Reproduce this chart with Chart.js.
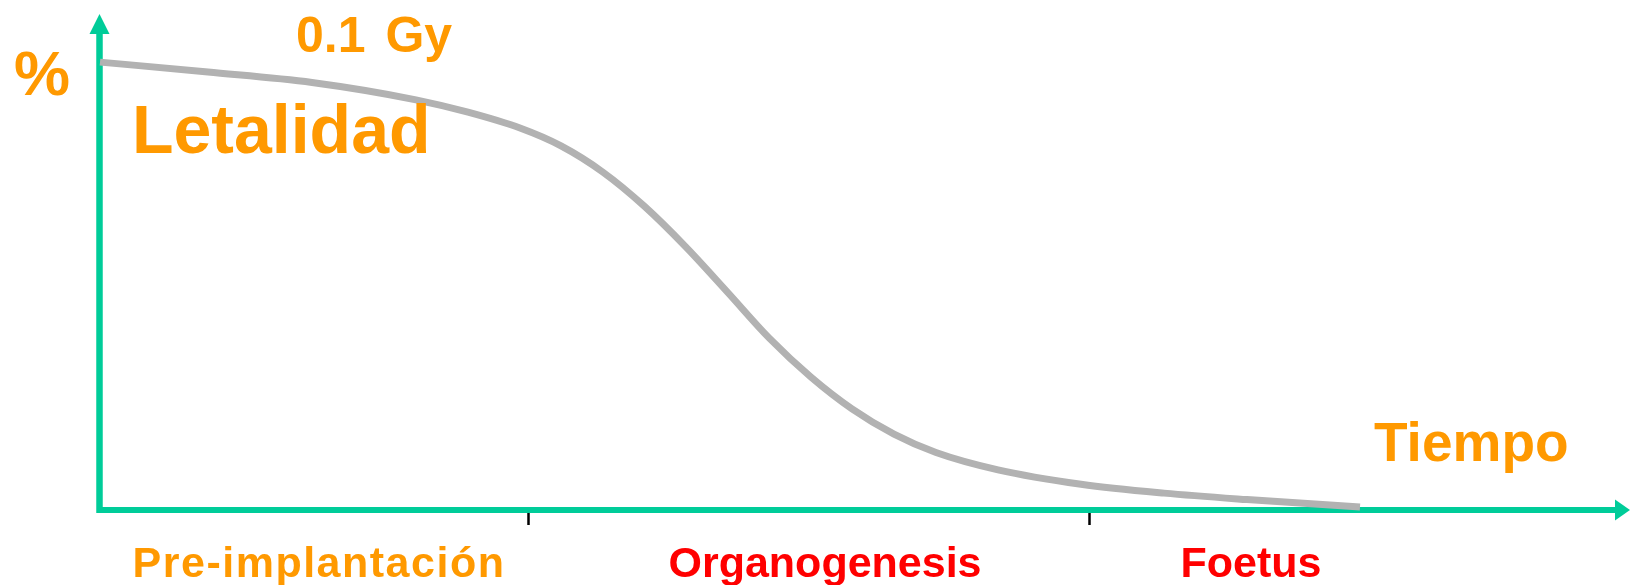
<!DOCTYPE html>
<html>
<head>
<meta charset="utf-8">
<script src="https://cdn.jsdelivr.net/npm/chart.js@4.4.1/dist/chart.umd.min.js"></script>
<style>
  html, body { margin: 0; padding: 0; background: #ffffff; overflow: hidden; }
  #wrap { position: relative; width: 1630px; height: 585px; }
</style>
</head>
<body>
<div id="wrap"><canvas id="c"></canvas></div>
<script>
// ---- data ----
const timeValues = [0, 108, 212, 316, 368, 420, 461, 503, 544, 586, 628, 669, 711, 752, 794, 836, 898, 981, 1064, 1147, 1260];
const lethality  = [90.3, 88.3, 86.2, 82.7, 80.2, 77.0, 73.4, 68.1, 61.3, 53.0, 43.8, 34.7, 26.8, 20.4, 15.3, 11.6, 8.1, 5.2, 3.4, 2.1, 0.6];
const phaseLabels = ['Pre-implantación', 'Organogenesis', 'Foetus'];
const phaseCenters = [219, 725, 1151];
const phaseBoundaries = [428, 989];
const yAxisLabel = '%';
const xAxisLabel = 'Tiempo';
const curveTitle = 'Letalidad';
const doseLabel = '0.1 Gy';

const TEAL = '#00CC99';
const ORANGE = '#FF9900';
const RED = '#FF0000';
const GRAY = '#B2B2B2';
const FONT = '"Liberation Sans", Arial, sans-serif';
const phaseColors = [ORANGE, RED, RED];
const phaseSpacing = ['1.5px', '0px', '0px'];

const points = timeValues.map((t, i) => ({ x: t, y: lethality[i] }));

const axesPlugin = {
  id: 'arrowAxes',
  beforeDatasetsDraw(chart) {
    const { ctx, chartArea: a, scales: { x, y } } = chart;
    const x0 = x.getPixelForValue(0) - 0.5;
    const y0 = y.getPixelForValue(0);
    ctx.save();
    ctx.strokeStyle = TEAL; ctx.fillStyle = TEAL; ctx.lineWidth = 6.5; ctx.lineCap = 'butt';
    // y axis
    ctx.beginPath(); ctx.moveTo(x0, y0 + 3); ctx.lineTo(x0, a.top + 18); ctx.stroke();
    ctx.beginPath(); ctx.moveTo(x0, a.top); ctx.lineTo(x0 - 10, a.top + 20); ctx.lineTo(x0 + 10, a.top + 20); ctx.closePath(); ctx.fill();
    // x axis
    ctx.lineWidth = 6;
    ctx.beginPath(); ctx.moveTo(x0 - 1, y0); ctx.lineTo(a.right - 13, y0); ctx.stroke();
    ctx.beginPath(); ctx.moveTo(a.right, y0); ctx.lineTo(a.right - 15, y0 - 10.5); ctx.lineTo(a.right - 15, y0 + 10.5); ctx.closePath(); ctx.fill();
    // phase boundary ticks
    ctx.strokeStyle = '#000'; ctx.lineWidth = 2.5;
    phaseBoundaries.forEach(b => {
      const px = Math.round(x.getPixelForValue(b)) + 0.5;
      ctx.beginPath(); ctx.moveTo(px, y0 + 3); ctx.lineTo(px, y0 + 15); ctx.stroke();
    });
    ctx.restore();
  },
  afterDatasetsDraw(chart) {
    const { ctx, chartArea: a, scales: { x, y } } = chart;
    const x0 = x.getPixelForValue(0);
    const y0 = y.getPixelForValue(0);
    ctx.save();
    ctx.textBaseline = 'alphabetic';
    ctx.fillStyle = ORANGE;
    // % label
    ctx.textAlign = 'left';
    ctx.font = 'bold 63px ' + FONT;
    ctx.fillText(yAxisLabel, x0 - 86, a.top + 81);
    // dose
    ctx.font = 'bold 50px ' + FONT;
    try { ctx.wordSpacing = '6px'; } catch (e) {}
    ctx.fillText(doseLabel, x0 + 196, a.top + 38);
    try { ctx.wordSpacing = '0px'; } catch (e) {}
    // Letalidad
    ctx.font = 'bold 68px ' + FONT;
    ctx.fillText(curveTitle, x0 + 32, a.top + 139);
    // Tiempo
    ctx.font = 'bold 55px ' + FONT;
    ctx.fillText(xAxisLabel, a.right - 256, y0 - 49);
    // phase labels
    ctx.textAlign = 'center';
    ctx.font = 'bold 43px ' + FONT;
    phaseLabels.forEach((lab, i) => {
      ctx.fillStyle = phaseColors[i];
      try { ctx.letterSpacing = phaseSpacing[i]; } catch (e) {}
      ctx.fillText(lab, x.getPixelForValue(phaseCenters[i]), y0 + 67);
    });
    try { ctx.letterSpacing = '0px'; } catch (e) {}
    ctx.restore();
  }
};

new Chart(document.getElementById('c'), {
  type: 'line',
  data: {
    datasets: [{
      label: curveTitle,
      data: points,
      borderColor: GRAY,
      borderWidth: 7,
      pointRadius: 0,
      fill: false,
      cubicInterpolationMode: 'monotone',
      borderCapStyle: 'butt'
    }]
  },
  options: {
    responsive: true,
    maintainAspectRatio: false,
    animation: false,
    layout: { padding: { left: 100, right: 0, top: 14, bottom: 75 } },
    plugins: { legend: { display: false }, tooltip: { enabled: false } },
    scales: {
      x: { type: 'linear', display: false, min: 0, max: 1530 },
      y: { type: 'linear', display: false, min: 0, max: 100 }
    },
    clip: false
  },
  plugins: [axesPlugin]
});
</script>
</body>
</html>
